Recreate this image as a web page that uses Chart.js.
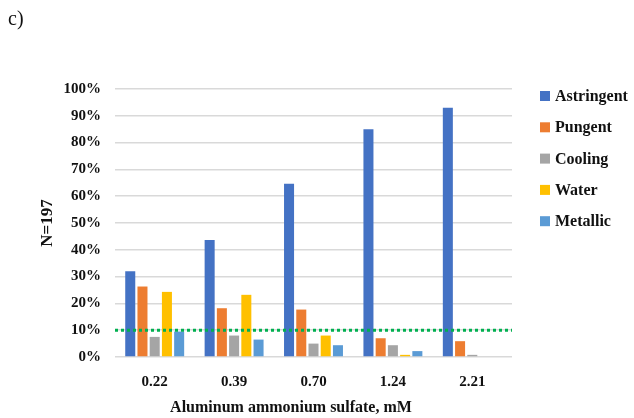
<!DOCTYPE html>
<html>
<head>
<meta charset="utf-8">
<script src="https://cdn.jsdelivr.net/npm/chart.js@4.4.1/dist/chart.umd.min.js"></script>
<style>
  html, body { margin: 0; padding: 0; background: #fff; }
  #wrap { position: relative; width: 634px; height: 418px; }
  #panel { position: absolute; left: 8px; top: 7px; font: 20px "Liberation Serif", serif; color: #111; }
</style>
</head>
<body>
<div id="wrap">
  <canvas id="c" width="634" height="418"></canvas>
  <div id="panel">c)</div>
</div>
<script>
const categories = ["0.22", "0.39", "0.70", "1.24", "2.21"];
const seriesNames = ["Astringent", "Pungent", "Cooling", "Water", "Metallic"];
const astringent = [32, 43.7, 64.6, 85, 93];
const pungent = [26.3, 18.2, 17.7, 7, 5.9];
const cooling = [7.5, 8, 5, 4.4, 0.8];
const water = [24.3, 23.2, 8, 0.8, 0];
const metallic = [9.5, 6.5, 4.4, 2.2, 0];
const threshold = 10;
const xTitle = 'Aluminum ammonium sulfate, mM';
const colors = ["#4472c4", "#ed7d31", "#a5a5a5", "#ffc000", "#5b9bd5"];

const FONT = '"Liberation Serif", serif';
const values = [astringent, pungent, cooling, water, metallic];

const legendPlugin = {
  id: 'customLegend',
  afterDraw(chart) {
    const ctx = chart.ctx;
    ctx.save();
    ctx.font = 'bold 16px ' + FONT;
    ctx.textBaseline = 'middle';
    chart.data.datasets.forEach((ds, i) => {
      const y = 96 + i * 31.3;
      ctx.fillStyle = ds.backgroundColor;
      ctx.fillRect(540, y - 5, 10, 10);
      ctx.fillStyle = '#111';
      ctx.fillText(ds.label, 555, y + 1);
    });
    ctx.font = 'bold 16px ' + FONT;
    ctx.textAlign = 'center';
    ctx.fillText(xTitle, 291, 408);
    ctx.restore();
  }
};

const thresholdPlugin = {
  id: 'thresholdLine',
  afterDatasetsDraw(chart) {
    const ctx = chart.ctx;
    const y = chart.scales.y.getPixelForValue(threshold);
    const a = chart.chartArea;
    ctx.save();
    ctx.strokeStyle = '#00b050';
    ctx.lineWidth = 3;
    ctx.setLineDash([3, 3]);
    ctx.beginPath();
    ctx.moveTo(a.left, y);
    ctx.lineTo(a.right, y);
    ctx.stroke();
    ctx.restore();
  }
};

new Chart(document.getElementById('c'), {
  type: 'bar',
  data: {
    labels: categories,
    datasets: seriesNames.map((n, i) => ({
      label: n,
      data: values[i],
      backgroundColor: colors[i],
      categoryPercentage: 0.77,
      barPercentage: 0.82
    }))
  },
  options: {
    responsive: false,
    animation: false,
    devicePixelRatio: 1,
    layout: { padding: { top: 89, right: 122, bottom: 0, left: 33 } },
    plugins: { legend: { display: false }, tooltip: { enabled: false } },
    scales: {
      x: {
        grid: { display: false },
        border: { display: false },
        ticks: { color: '#111', font: { family: FONT, size: 15, weight: 'bold' }, padding: 8 },
        afterFit(s) { s.height = 418 - 357; }
      },
      y: {
        min: 0, max: 100,
        border: { display: false },
        grid: {
          color: c => (c.index % 2 === 0 ? '#d9d9d9' : '#eeeeee'),
          lineWidth: 1.5,
          drawTicks: false
        },
        ticks: {
          stepSize: 5,
          color: '#111',
          padding: 14,
          font: { family: FONT, size: 15, weight: 'bold' },
          callback: (v, i) => (i % 2 === 0 ? v + '%' : '')
        },
        title: { display: true, text: 'N=197', color: '#111', font: { family: FONT, size: 17, weight: 'bold' }, padding: { bottom: 6 } },
        afterFit(s) { s.width = 115 - 33; }
      }
    }
  },
  plugins: [thresholdPlugin, legendPlugin]
});
</script>
</body>
</html>
